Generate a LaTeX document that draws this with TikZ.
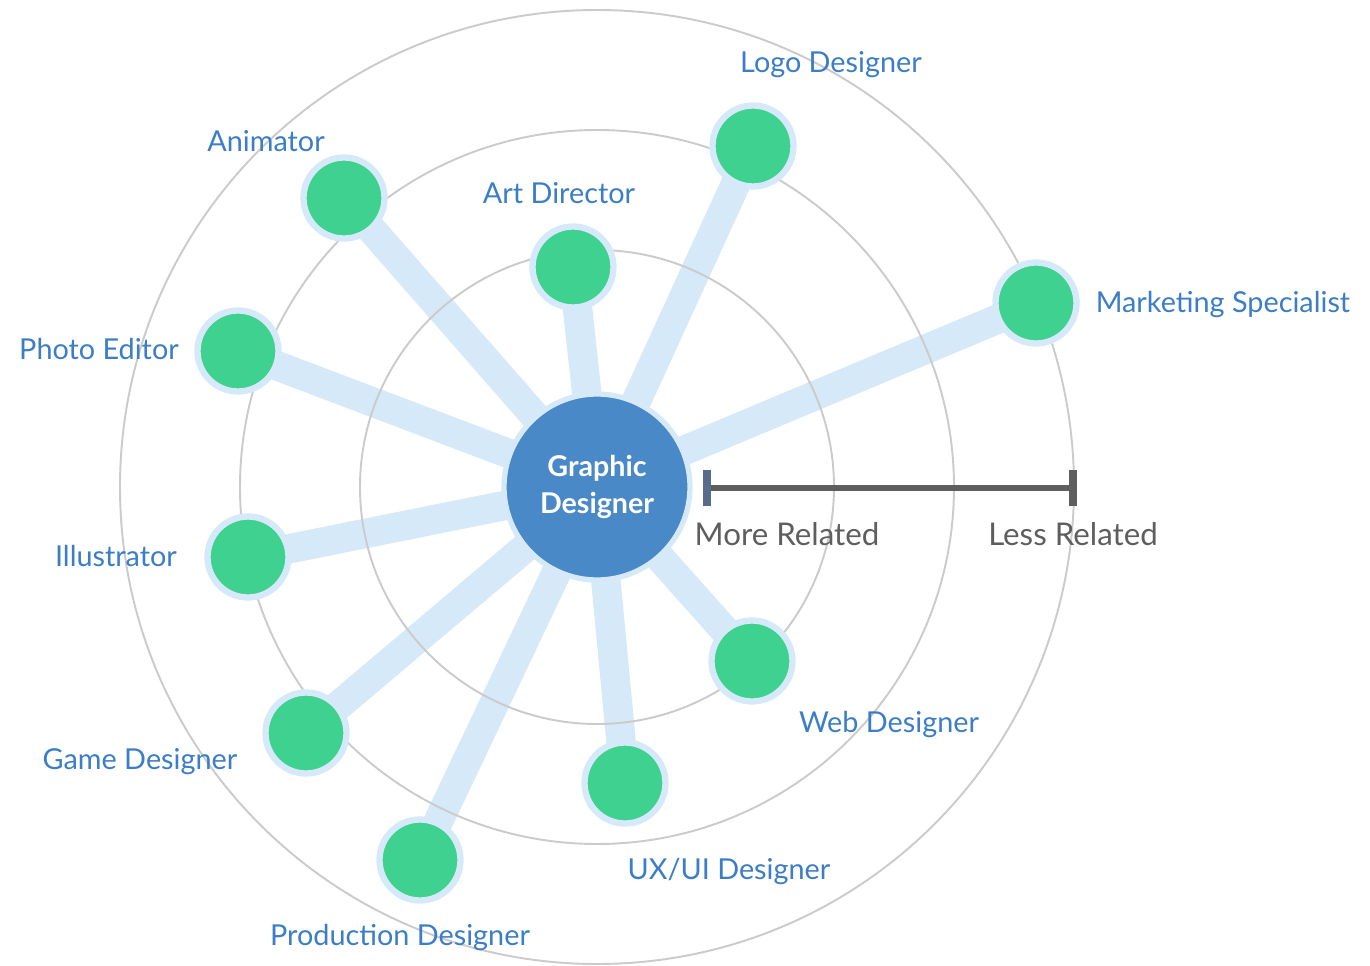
\documentclass[tikz,border=0pt]{standalone}
\usepackage{fontspec}
\setmainfont{Lato}
\usetikzlibrary{arrows.meta,backgrounds}

\definecolor{ringgray}{HTML}{CBCBCB}
\definecolor{spokeblue}{HTML}{D6E9F8}
\definecolor{hubblue}{HTML}{4A89C8}
\definecolor{jobgreen}{HTML}{3FD18F}
\definecolor{labelblue}{HTML}{3B7DC6}
\definecolor{scalegray}{HTML}{5E5E5E}
\definecolor{tickblue}{HTML}{5A6C8E}

\begin{document}
\begin{tikzpicture}[x=0.02cm,y=-0.02cm,
    ring/.style ={draw=ringgray, line width=1.1pt},
    hub/.style ={circle, fill=hubblue, draw=spokeblue, line width=3pt,
      minimum size=3.72cm, inner sep=0pt, text=white, align=center,
      font=\fontsize{16.3}{21}\selectfont\bfseries},
    job/.style ={circle, fill=jobgreen, draw=spokeblue, line width=3.6pt,
      minimum size=1.62cm, inner sep=0pt},
    spoke/.style ={draw=spokeblue, line width=16.8pt},
    joblabel/.style ={text=labelblue, font=\fontsize{16.4}{19}\selectfont},
    scalelabel/.style ={text=scalegray, font=\fontsize{17.8}{21}\selectfont}]
   \useasboundingbox (0,0) rectangle (1370,966);
   % rings
   \draw[ring] (597,487) circle[radius=237];
   \draw[ring] (597,487) circle[radius=357];
   \draw[ring] (597,487) circle[radius=477];
   % hub and jobs
   \node[hub] (gd) at (597,487) {Graphic\\Designer};
   \node[job] (animator) at (344,198) {};
   \node[job] (artdir) at (573,267) {};
   \node[job] (logo) at (753,146) {};
   \node[job] (marketing) at (1036,303) {};
   \node[job] (photo) at (238,351) {};
   \node[job] (illus) at (248,557) {};
   \node[job] (game) at (306,733) {};
   \node[job] (production) at (420,860) {};
   \node[job] (uxui) at (625,783) {};
   \node[job] (web) at (752,661) {};
   % spokes
   \begin{scope}[on background layer]
   \foreach \j in {animator,artdir,logo,marketing,photo,illus,game,production,uxui,web}
      \draw[spoke] (gd.center) -- (\j.center);
   \end{scope}
   % labels
   \node[joblabel] (animatorlabel) at (266,141) {Animator};
   \node[joblabel] (artdirlabel) at (559,193) {Art Director};
   \node[joblabel] (logolabel) at (831,65) {Logo Designer};
   \node[joblabel] (marketinglabel) at (1223,305) {Marketing Specialist};
   \node[joblabel] (photolabel) at (99,349) {Photo Editor};
   \node[joblabel] (illuslabel) at (116,556) {Illustrator};
   \node[joblabel] (gamelabel) at (140,762) {Game Designer};
   \node[joblabel] (productionlabel) at (400,938) {Production Designer};
   \node[joblabel] (uxuilabel) at (729,872) {UX/UI Designer};
   \node[joblabel] (weblabel) at (889,725) {Web Designer};
   % scale
   \coordinate (near) at (703,488);
   \coordinate (far) at (1077,488);
   \draw[scalegray, line width=3.4pt,
     {Bar[width=20.5pt,line width=4.5pt,color=tickblue]}-{Bar[width=20.5pt,line width=4.5pt]}]
     (near) -- (far);
   \node[scalelabel] (morelabel) at (787,534) {More Related};
   \node[scalelabel] (lesslabel) at (1073,534) {Less Related};
 \end{tikzpicture}
\end{document}
